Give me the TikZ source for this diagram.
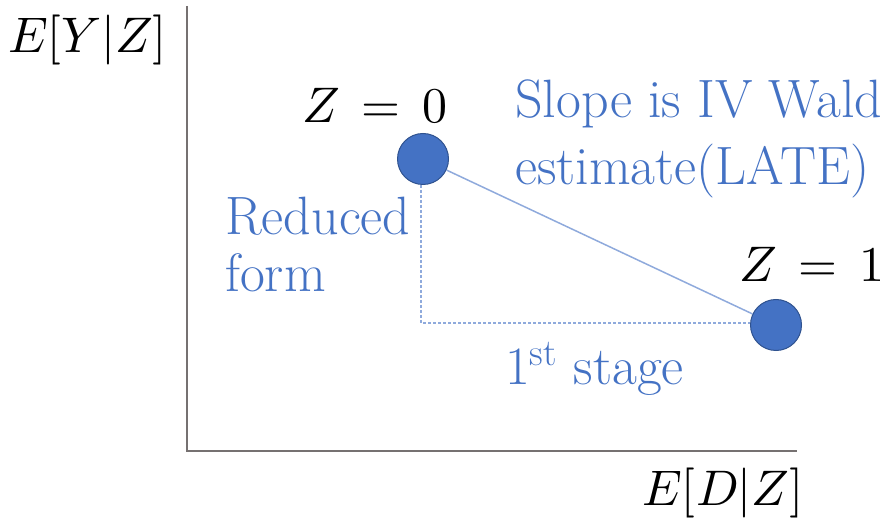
\documentclass[tikz,border=0pt]{standalone}
\usepackage{fontspec}
\usepackage{unicode-math}
\definecolor{txtblue}{HTML}{4472C4}
\definecolor{dotfill}{HTML}{4472C4}
\definecolor{dotedge}{HTML}{2F528F}
\definecolor{linkblue}{HTML}{8FAADC}
\definecolor{axisgray}{HTML}{767171}
\begin{document}
\begin{tikzpicture}[x=1pt,y=-1pt,
  axis/.style={draw=axisgray,line width=1.6pt},
  dot/.style={circle,fill=dotfill,draw=dotedge,line width=1pt,minimum size=51pt,inner sep=0pt},
  bluetext/.style={text=txtblue,inner sep=0pt,font=\fontsize{54}{60}\selectfont},
  mathlbl/.style={inner sep=0pt,font=\fontsize{50}{56}\selectfont},
  guide/.style={draw=linkblue,line width=1.3pt,dash pattern=on 3pt off 2pt},
  slope/.style={draw=linkblue,line width=1.5pt}]
\useasboundingbox (0,0) rectangle (887,521);
% axes
\coordinate (top) at (187,6);
\coordinate (origin) at (187,451);
\coordinate (right) at (797,451);
\draw[axis] (top) -- (origin) -- (right);
% dots
\node[dot] (z0) at (423,159) {};
\node[dot] (z1) at (776,325) {};
\coordinate (corner) at (421,323);
\draw[guide] (z0.south -| corner) -- (corner) -- (corner -| z1.west);
\draw[slope] (z0) -- (z1);
% labels
\node[mathlbl,anchor=base west] (ylab) at (8,53) {$E[Y|Z]$};
\node[mathlbl,anchor=base west] (xlab) at (642,505) {$E[D|Z]$};
\node[mathlbl,anchor=base] (l0) at (375,123) {$Z\,=\,0$};
\node[mathlbl,anchor=base] (l1) at (812,282) {$Z\,=\,1$};
\node[bluetext,anchor=base west] (s1) at (515,118) {Slope is IV Wald};
\node[bluetext,anchor=base west] (s2) at (515,185) {estimate(LATE)};
\node[bluetext,anchor=base west] (r1) at (225,235) {Reduced};
\node[bluetext,anchor=base west] (r2) at (225,292) {form};
\node[bluetext,anchor=base west] (fs) at (505,385) {1\textsuperscript{st} stage};
\end{tikzpicture}
\end{document}
